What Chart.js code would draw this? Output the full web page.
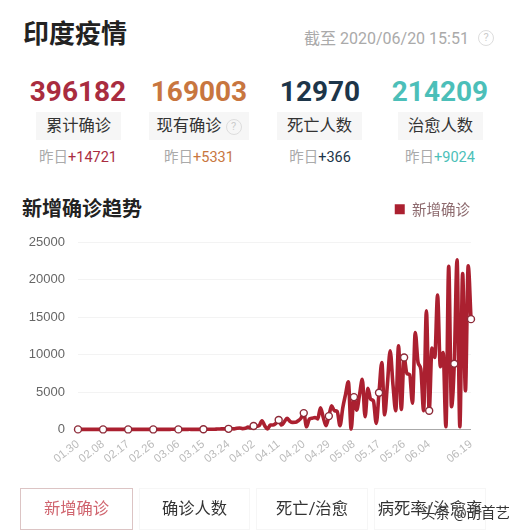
<!DOCTYPE html>
<html lang="zh">
<head>
<meta charset="utf-8">
<title>印度疫情</title>
<script src="https://cdn.jsdelivr.net/npm/chart.js@4/dist/chart.umd.min.js"></script>
<style>
  * { box-sizing: border-box; }
  html, body { margin: 0; padding: 0; background: #fff; }
  body { width: 512px; height: 532px; position: relative; overflow: hidden;
    font-family: Roboto, "Noto Sans CJK SC", sans-serif; }
  .abs { position: absolute; white-space: nowrap; line-height: 1; }
  .help { display: inline-block; border: 1.5px solid #ddd; border-radius: 50%; color: #ccc;
    text-align: center; font-size: 11px; width: 16px; height: 16px; line-height: 13px; }
  .stat-num { font-weight: 700; font-size: 28px; text-align: center; width: 120px; top: 78px; }
  .stat-box { background: #f6f6f6; top: 112px; height: 28px; line-height: 28px; text-align: center;
    font-size: 16.3px; color: #333; }
  .stat-prev { font-size: 14.5px; text-align: center; width: 120px; top: 151px; color: #aaa; }
  .tab { top: 488px; height: 42px; line-height: 40px; text-align: center; font-size: 16.3px; color: #333;
    border: 1px solid #f6f6f6; }
  #chartWrap { position: absolute; left: 0; top: 190px; width: 512px; height: 300px; }
  #trendChart { display: block; }
</style>
</head>
<body>
<div class="abs" style="left:23px;top:19px;font-size:26px;font-weight:700;color:#222;font-family:'Noto Sans CJK SC'">印度疫情</div>
<div class="abs" style="left:304px;top:31px;font-size:16px;color:#aaa">截至 2020/06/20 15:51</div>
<span class="abs help" style="left:478px;top:30px">?</span>
<div id="stats"></div>
<div class="abs" style="left:22px;top:198px;font-size:20px;font-weight:700;color:#222;font-family:'Noto Sans CJK SC'">新增确诊趋势</div>
<div id="chartWrap"><canvas id="trendChart" width="512" height="300"></canvas></div>
<div id="tabs"></div>
<div class="abs" style="left:421px;top:507px;font-size:14.5px;color:#333;text-shadow:0 0 2px #fff">头条 @胡首艺</div>

<script>
// === Data ===
const statValues = ['396182', '169003', '12970', '214209'];
const statNames = ['累计确诊', '现有确诊', '死亡人数', '治愈人数'];
const statPrev = ['+14721', '+5331', '+366', '+9024'];
const statColors = ['#a92c3f', '#c8763f', '#1d3549', '#4cbfb9'];
const statCenters = [78, 199, 320, 440];
const statBoxes = [[36, 85], [149, 100], [277, 85], [398, 85]];

const tabNames = ['新增确诊', '确诊人数', '死亡/治愈', '病死率/治愈率'];
const tabBoxes = [[20, 113], [139, 111], [256, 112], [374, 112]];

const categories = [
  '01.30','01.31',
  '02.01','02.02','02.03','02.04','02.05','02.06','02.07','02.08','02.09','02.10',
  '02.11','02.12','02.13','02.14','02.15','02.16','02.17','02.18','02.19','02.20',
  '02.21','02.22','02.23','02.24','02.25','02.26','02.27','02.28','02.29',
  '03.01','03.02','03.03','03.04','03.05','03.06','03.07','03.08','03.09','03.10',
  '03.11','03.12','03.13','03.14','03.15','03.16','03.17','03.18','03.19','03.20',
  '03.21','03.22','03.23','03.24','03.25','03.26','03.27','03.28','03.29','03.30','03.31',
  '04.01','04.02','04.03','04.04','04.05','04.06','04.07','04.08','04.09','04.10',
  '04.11','04.12','04.13','04.14','04.15','04.16','04.17','04.18','04.19','04.20',
  '04.21','04.22','04.23','04.24','04.25','04.26','04.27','04.28','04.29','04.30',
  '05.01','05.02','05.03','05.04','05.05','05.06','05.07','05.08','05.09','05.10',
  '05.11','05.12','05.13','05.14','05.15','05.16','05.17','05.18','05.19','05.20',
  '05.21','05.22','05.23','05.24','05.25','05.26','05.27','05.28','05.29','05.30','05.31',
  '06.01','06.02','06.03','06.04','06.05','06.06','06.07','06.08','06.09','06.10',
  '06.11','06.12','06.13','06.14','06.15','06.16','06.17','06.18','06.19'
];

const newCases = [
  1, 0, 1, 1, 1, 0, 0, 0, 0, 0, 0, 0,
  0, 0, 0, 0, 0, 0, 0, 0, 0, 0,
  0, 0, 0, 0, 0, 0, 0, 0, 0,
  0, 2, 2, 22, 2, 1, 3, 5, 4, 13,
  6, 11, 10, 2, 26, 13, 14, 23, 28, 49,
  64, 77, 69, 77, 90, 75, 150, 180, 110, 150, 300,
  200, 450, 400, 500, 1160, 500, 50, 580, 600, 800,
  1250, 580, 1000, 1470, 1100, 940, 950, 1160, 1500, 2180,
  350, 1380, 1500, 1600, 1400, 2900, 1600, 490, 1780, 3150,
  2500, 2400, 490, 2900, 4700, 6370, 50, 4320, 2580, 4600,
  6700, 1700, 5500, 4050, 3800, 800, 4900, 8950, 1960, 6000,
  10500, 6000, 2500, 11180, 2670, 9625, 7480, 7300, 3520, 12970,
  8950, 8060, 2500, 15860, 2500, 10870, 9625, 17960, 8380, 10290,
  350, 21830, 3030, 8780, 22680, 350, 20850, 5170, 21880, 14750
];

const tickLabels = ['01.30','02.08','02.17','02.26','03.06','03.15','03.24','04.02','04.11',
  '04.20','04.29','05.08','05.17','05.26','06.04','06.19'];
const markerDates = tickLabels.concat(['06.13']);
const yTicks = [0, 5000, 10000, 15000, 20000, 25000];

// === Header stats ===
const stats = document.getElementById('stats');
statValues.forEach((v, i) => {
  const help = i === 1 ? ' <span class="help" style="vertical-align:1px">?</span>' : '';
  stats.innerHTML +=
    `<div class="abs stat-num" style="left:${statCenters[i] - 60}px;color:${statColors[i]}">${v}</div>` +
    `<div class="abs stat-box" style="left:${statBoxes[i][0]}px;width:${statBoxes[i][1]}px">${statNames[i]}${help}</div>` +
    `<div class="abs stat-prev" style="left:${statCenters[i] - 60}px">昨日<span style="color:${statColors[i]}">${statPrev[i]}</span></div>`;
});

// === Tabs ===
const tabs = document.getElementById('tabs');
tabNames.forEach((t, i) => {
  const active = i === 0 ? 'border:1.5px solid #dcc4c4;color:#d0656f;' : '';
  tabs.innerHTML += `<div class="abs tab" style="left:${tabBoxes[i][0]}px;width:${tabBoxes[i][1]}px;${active}">${t}</div>`;
});

// === Legend placement: extra gap under it, and nudged out to the grid's right end ===
const legendPlace = {
  id: 'legendPlace',
  beforeInit(chart) {
    const fit = chart.legend.fit;
    chart.legend.fit = function () {
      fit.call(this);
      this.height += 16;
    };
  },
  afterLayout(chart) {
    chart.legend.right += 11;
  }
};

// === Chart ===
new Chart(document.getElementById('trendChart'), {
  type: 'line',
  plugins: [legendPlace],
  data: {
    labels: categories,
    datasets: [{
      label: '新增确诊',
      data: newCases,
      borderColor: '#ab2030',
      backgroundColor: '#ab2030',
      borderWidth: 3.6,
      cubicInterpolationMode: 'monotone',
      clip: false,
      pointRadius: ctx => markerDates.includes(categories[ctx.dataIndex]) ? 3.5 : 0,
      pointHoverRadius: 4,
      pointBackgroundColor: '#fff',
      pointBorderColor: '#8d2a38',
      pointBorderWidth: 1.4
    }]
  },
  options: {
    responsive: false,
    animation: false,
    layout: { padding: { left: 0, right: 41, top: 0, bottom: 24 } },
    plugins: {
      tooltip: { enabled: false },
      legend: {
        position: 'top',
        align: 'end',
        labels: {
          boxWidth: 10,
          boxHeight: 10,
          color: '#8d6a6e',
          font: { size: 14.5, family: "'Noto Sans CJK SC'" },
          padding: 12,
          generateLabels: chart => [{
            text: '新增确诊',
            fillStyle: '#ab2030',
            strokeStyle: '#ab2030',
            lineWidth: 0,
            fontColor: '#8d6a6e'
          }]
        }
      }
    },
    scales: {
      x: {
        offset: false,
        grid: { display: false },
        border: { display: false },
        ticks: {
          autoSkip: false,
          minRotation: 38,
          maxRotation: 38,
          padding: 0,
          color: '#bbb',
          font: { size: 11.5 },
          callback: function (value) {
            const label = this.getLabelForValue(value);
            return tickLabels.includes(label) ? label : '';
          }
        }
      },
      y: {
        min: 0,
        max: 25000,
        afterFit: scale => { scale.width = 78; },
        afterBuildTicks: scale => { scale.ticks = yTicks.map(v => ({ value: v })); },
        grid: {
          color: ctx => ctx.tick.value === 0 ? '#aaa' : '#f3f3f3',
          lineWidth: 1,
          drawTicks: false
        },
        border: { display: false },
        ticks: {
          padding: 13,
          color: '#666',
          font: { size: 13 },
          callback: value => String(value)
        }
      }
    }
  }
});
</script>
</body>
</html>
